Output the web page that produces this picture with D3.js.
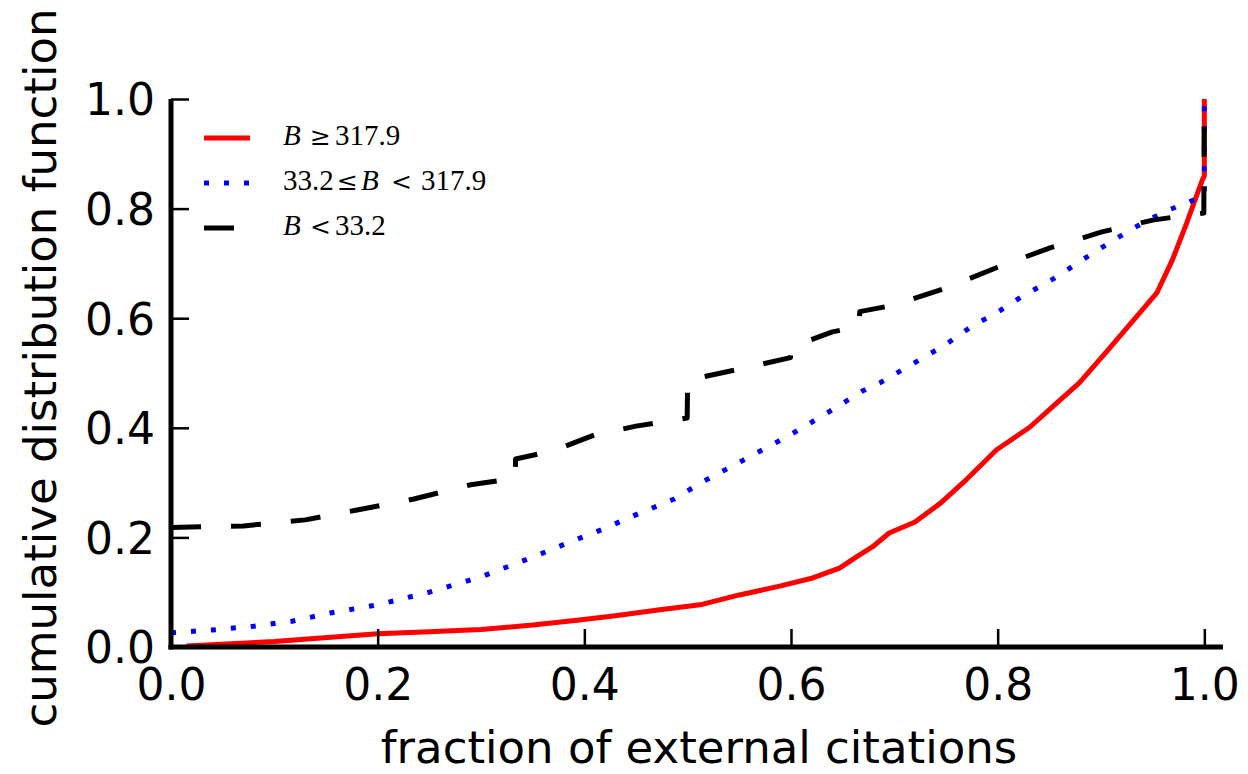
<!DOCTYPE html>
<html>
<head>
<meta charset="utf-8">
<script src="https://cdn.jsdelivr.net/npm/d3@7"></script>
<style>
  html, body { margin: 0; padding: 0; background: #fff; }
  svg { display: block; }
</style>
</head>
<body>
<svg id="chart" width="1248" height="774"></svg>
<script>
// ---- data ----
const xTicks = [0.0, 0.2, 0.4, 0.6, 0.8, 1.0];
const yTicks = [0.0, 0.2, 0.4, 0.6, 0.8, 1.0];

// B >= 317.9 (red, solid)
const redX = [0.015, 0.1, 0.2, 0.25, 0.3, 0.35, 0.393, 0.43, 0.473, 0.512, 0.55, 0.589, 0.621, 0.647, 0.663, 0.679, 0.695, 0.72, 0.745, 0.77, 0.799, 0.831, 0.853, 0.879, 0.905, 0.934, 0.954, 0.969, 0.983, 0.992, 0.998, 1.0, 1.0];
const redY = [0.002, 0.01, 0.024, 0.028, 0.032, 0.04, 0.049, 0.057, 0.068, 0.077, 0.095, 0.111, 0.126, 0.144, 0.164, 0.183, 0.208, 0.228, 0.263, 0.306, 0.36, 0.401, 0.438, 0.482, 0.538, 0.602, 0.646, 0.706, 0.774, 0.821, 0.852, 0.86, 1.0];

// 33.2 <= B < 317.9 (blue, dotted)
const blueX = [0, 0.04, 0.08, 0.117, 0.154, 0.2, 0.25, 0.3, 0.35, 0.384, 0.418, 0.452, 0.487, 0.514, 0.55, 0.6, 0.635, 0.669, 0.686, 0.717, 0.749, 0.777, 0.794, 0.823, 0.855, 0.885, 0.9, 0.93, 0.963, 0.983, 0.998, 1.0, 1.0];
const blueY = [0.026, 0.031, 0.038, 0.047, 0.062, 0.077, 0.1, 0.128, 0.164, 0.19, 0.215, 0.243, 0.27, 0.301, 0.337, 0.388, 0.427, 0.467, 0.482, 0.516, 0.551, 0.588, 0.604, 0.639, 0.673, 0.71, 0.728, 0.763, 0.796, 0.81, 0.823, 0.825, 1.0];

// B < 33.2 (black, dashed)
const blackX = [0, 0.07, 0.13, 0.18, 0.235, 0.29, 0.333, 0.3335, 0.37, 0.41, 0.45, 0.4995, 0.5, 0.55, 0.5995, 0.6, 0.64, 0.666, 0.6665, 0.7, 0.75, 0.8, 0.85, 0.9, 0.95, 0.9995, 1.0];
const blackY = [0.218, 0.221, 0.232, 0.25, 0.27, 0.296, 0.308, 0.343, 0.358, 0.387, 0.403, 0.418, 0.487, 0.507, 0.528, 0.547, 0.575, 0.585, 0.612, 0.624, 0.655, 0.693, 0.728, 0.757, 0.779, 0.792, 1.0];

// ---- layout ----
const svg = d3.select("#chart");
const x = d3.scaleLinear().domain([0, 1.02]).range([171, 1225]);
const y = d3.scaleLinear().domain([0, 1]).range([647, 99]);

const tickFont = "'DejaVu Sans', sans-serif";

// series
const series = [
  {xs: redX, ys: redY, color: "#ff0000", dash: null},
  {xs: blueX, ys: blueY, color: "#0000ff", dash: "5,15"},
  {xs: blackX, ys: blackY, color: "#000000", dash: "30,30"}
];
const line = d3.line().x(d => x(d[0])).y(d => y(d[1]));
series.forEach(s => {
  const pts = s.xs.map((v, i) => [v, s.ys[i]]);
  svg.append("path")
    .attr("d", line(pts))
    .attr("fill", "none")
    .attr("stroke", s.color)
    .attr("stroke-width", 5)
    .attr("stroke-linejoin", "round")
    .attr("stroke-linecap", "butt")
    .attr("stroke-dasharray", s.dash);
});

// axes (ticks inward)
const gx = svg.append("g").attr("transform", `translate(0,${y(0)})`)
  .call(d3.axisBottom(x).tickValues(xTicks).tickFormat(d3.format(".1f")).tickSize(-18).tickPadding(22));
const gy = svg.append("g").attr("transform", `translate(${x(0)},0)`)
  .call(d3.axisLeft(y).tickValues(yTicks).tickFormat(d3.format(".1f")).tickSize(-18).tickPadding(16));
[gx, gy].forEach(g => {
  g.select(".domain").remove();
  g.selectAll(".tick line").attr("stroke", "#000").attr("stroke-width", 2.5);
  g.selectAll(".tick text").attr("fill", "#000").style("font-family", tickFont).style("font-size", "44px");
});
gy.selectAll(".tick text").attr("dy", "0.36em");

// spines
svg.append("line").attr("x1", x(0)).attr("x2", x(0)).attr("y1", y(1)).attr("y2", y(0) + 2.5)
  .attr("stroke", "#000").attr("stroke-width", 5);
svg.append("line").attr("x1", x(0) - 2.5).attr("x2", x(1.018)).attr("y1", y(0)).attr("y2", y(0))
  .attr("stroke", "#000").attr("stroke-width", 5);

// axis labels
svg.append("text").attr("x", 699).attr("y", 763).attr("text-anchor", "middle")
  .style("font-family", tickFont).style("font-size", "45px").text("fraction of external citations");
svg.append("text").attr("transform", `translate(56,${(y(0) + y(1)) / 2 - 5}) rotate(-90)`)
  .attr("text-anchor", "middle")
  .style("font-family", tickFont).style("font-size", "45px").text("cumulative distribution function");

// legend
const legFont = "'Liberation Serif', 'Times New Roman', serif";
const symFont = "'DejaVu Serif', serif";
const legParts = [
  [{t: "B", it: true, x: 283}, {t: "≥", sym: true, x: 310}, {t: "317.9", x: 335}],
  [{t: "33.2", x: 283}, {t: "≤", sym: true, x: 337}, {t: "B", it: true, x: 361}, {t: "<", sym: true, x: 391}, {t: "317.9", x: 421}],
  [{t: "B", it: true, x: 283}, {t: "<", sym: true, x: 310}, {t: "33.2", x: 335}]
];
const leg = svg.append("g");
series.forEach((s, i) => {
  const by = 145 + i * 45;
  leg.append("line").attr("x1", 204).attr("x2", 250).attr("y1", by - 7).attr("y2", by - 7)
    .attr("stroke", s.color).attr("stroke-width", 5).attr("stroke-dasharray", s.dash);
  const t = leg.append("text").attr("y", by).style("font-family", legFont).style("font-size", "29px");
  legParts[i].forEach(p => {
    const ts = t.append("tspan").attr("x", p.x).style("font-style", p.it ? "italic" : "normal").text(p.t);
    if (p.sym) ts.style("font-family", symFont).style("font-size", "25px");
  });
});
</script>
</body>
</html>
